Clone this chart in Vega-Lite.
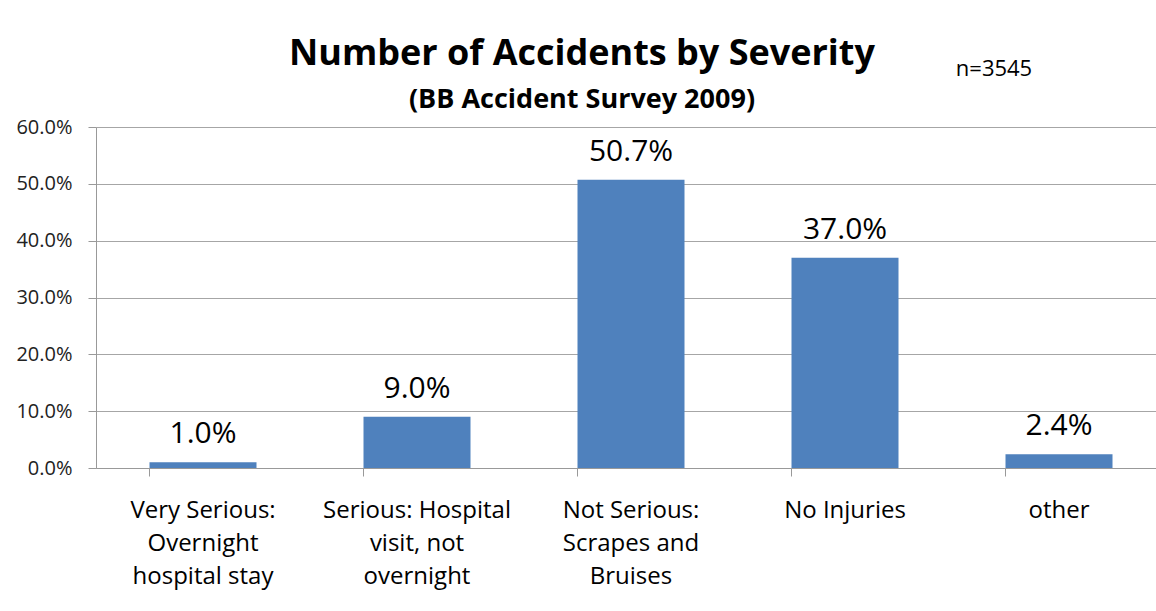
{
  "$schema": "https://vega.github.io/schema/vega-lite/v6.json",
  "autosize": "none",
  "padding": {"left": 96, "top": 127, "right": 0, "bottom": 143},
  "width": 1060,
  "height": 341,
  "background": "white",
  "config": {
    "font": "Open Sans",
    "view": {"stroke": null}
  },
  "title": {
    "text": "Number of Accidents by Severity",
    "subtitle": "(BB Accident Survey 2009)",
    "font": "Open Sans",
    "fontSize": 36,
    "fontWeight": "bold",
    "color": "#000000",
    "subtitleFont": "Open Sans",
    "subtitleFontSize": 27,
    "subtitleFontWeight": "bold",
    "subtitleColor": "#000000",
    "subtitlePadding": 14,
    "anchor": "middle",
    "dx": -44,
    "dy": 70,
    "offset": 14
  },
  "data": {
    "values": [
      {"category": "Very Serious:|Overnight|hospital stay", "value": 0.010},
      {"category": "Serious: Hospital|visit, not|overnight", "value": 0.090},
      {"category": "Not Serious:|Scrapes and|Bruises", "value": 0.507},
      {"category": "No Injuries", "value": 0.370},
      {"category": "other", "value": 0.024}
    ]
  },
  "encoding": {
    "x": {
      "field": "category",
      "type": "nominal",
      "sort": null,
      "scale": {"paddingInner": 0.5, "paddingOuter": 0.25, "range": [0, 1070]},
      "axis": {
        "title": null,
        "labelAngle": 0,
        "labelExpr": "split(datum.label, '|')",
        "labelFontSize": 24,
        "labelColor": "#000000",
        "labelLineHeight": 33,
        "labelPadding": 22,
        "labelBaseline": "top",
        "bandPosition": 0,
        "tickSize": 8,
        "tickColor": "#999999",
        "domainColor": "#999999",
        "labelLimit": 300
      }
    },
    "y": {
      "field": "value",
      "type": "quantitative",
      "scale": {"domain": [0, 0.6]},
      "axis": {
        "title": null,
        "format": ".1%",
        "values": [0, 0.1, 0.2, 0.3, 0.4, 0.5, 0.6],
        "labelFontSize": 20,
        "labelColor": "#222222",
        "labelPadding": 16,
        "tickSize": 8,
        "tickColor": "#999999",
        "domainColor": "#999999",
        "gridColor": "#a6a6a6",
        "grid": true
      }
    }
  },
  "layer": [
    {
      "mark": {"type": "bar", "color": "#4f81bd"}
    },
    {
      "mark": {"type": "text", "baseline": "alphabetic", "dy": -19, "fontSize": 30, "color": "#000000"},
      "encoding": {
        "text": {"field": "value", "type": "quantitative", "format": ".1%"}
      }
    },
    {
      "data": {"values": [{"category": "other", "note": "n=3545", "pos": 0.69}]},
      "mark": {"type": "text", "fontSize": 22, "color": "#000000", "dx": -65, "baseline": "alphabetic", "clip": false},
      "encoding": {
        "x": {"field": "category", "type": "nominal"},
        "y": {"field": "pos", "type": "quantitative"},
        "text": {"field": "note"}
      }
    }
  ]
}
